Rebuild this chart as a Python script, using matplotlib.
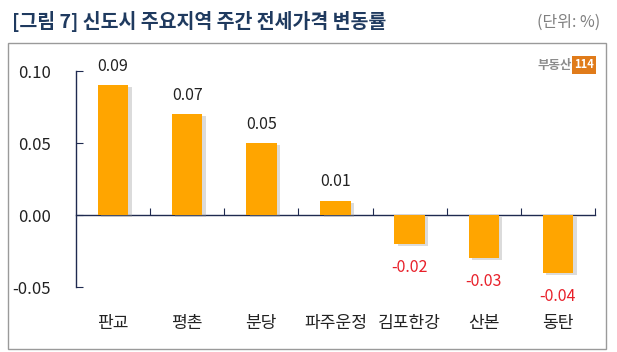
import matplotlib
matplotlib.use("Agg")
import matplotlib.pyplot as plt
import matplotlib.patheffects as pe
from matplotlib.patches import Rectangle
import matplotlib.transforms as mtrans

plt.rcParams['font.family'] = ['Noto Sans CJK KR', 'DejaVu Sans']

regions = ["판교", "평촌", "분당", "파주운정", "김포한강", "산본", "동탄"]
changes = [0.09, 0.07, 0.05, 0.01, -0.02, -0.03, -0.04]
yticks = [-0.05, 0.00, 0.05, 0.10]

fig = plt.figure(figsize=(6.17, 3.52), dpi=100)
W, H = 617, 352

# outer frame
fig.patches.append(Rectangle((8 / W, 1 - 349 / H), 598 / W, (349 - 43) / H,
                             transform=fig.transFigure, fill=False,
                             edgecolor="#9a9a9a", linewidth=1.0))

fig.text(12 / W, 1 - 22 / H, "[그림 7] 신도시 주요지역 주간 전세가격 변동률",
         fontsize=14, fontweight="bold", color="#1F3A5F", va="center", ha="left")
fig.text(600 / W, 1 - 22 / H, "(단위: %)", fontsize=11.5, color="#808080",
         va="center", ha="right")

# logo
fig.text(572 / W, 1 - 65 / H, "부동산", fontsize=9, fontweight="bold",
         color="#8c8c8c", va="center", ha="right")
fig.text(584 / W, 1 - 65 / H, "114", fontsize=8, fontweight="bold", color="white",
         va="center", ha="center",
         bbox=dict(boxstyle="square,pad=0.2", facecolor="#E07B1A", edgecolor="none"))

ax = fig.add_axes([76 / W, 1 - 287 / H, (595 - 76) / W, (287 - 71) / H])
x = list(range(len(regions)))
bars = ax.bar(x, changes, width=0.41, color="#FFA500", zorder=3)
for b in bars:
    b.set_path_effects([pe.SimplePatchShadow(offset=(2.5, -1.5), shadow_rgbFace="#9a9a9a", alpha=0.35),
                        pe.Normal()])

ax.set_xlim(-0.5, len(regions) - 0.5)
ax.set_ylim(-0.05, 0.10)

for s in ["top", "right"]:
    ax.spines[s].set_visible(False)
ax.spines["left"].set_color("#1F2A50")
ax.spines["bottom"].set_color("#1F2A50")
ax.spines["bottom"].set_position(("data", 0))
ax.spines["left"].set_linewidth(1.0)
ax.spines["bottom"].set_linewidth(1.0)

ax.set_yticks(yticks)
ax.set_yticklabels(["%.2f" % v for v in yticks], fontsize=12, color="#222222")
ax.tick_params(axis="y", direction="in", length=5, pad=18, color="#1F2A50")
ax.set_xticks([i + 0.5 for i in x])
ax.set_xticklabels([])
ax.tick_params(axis="x", direction="in", length=5, color="#1F2A50")

trans = mtrans.blended_transform_factory(ax.transData, ax.transAxes)
for i, name in enumerate(regions):
    ax.text(i, -0.168, name, transform=trans, ha="center", va="center",
            fontsize=12.3, color="#222222")

for i, v in enumerate(changes):
    if v >= 0:
        ax.annotate("%.2f" % v, (i, v), xytext=(0, 13.5), textcoords="offset points",
                    ha="center", va="center", fontsize=11.5, color="#222222")
    else:
        ax.annotate("%.2f" % v, (i, v), xytext=(0, -17), textcoords="offset points",
                    ha="center", va="center", fontsize=11.5, color="#E8202A")

fig.savefig("out.png", dpi=100)
